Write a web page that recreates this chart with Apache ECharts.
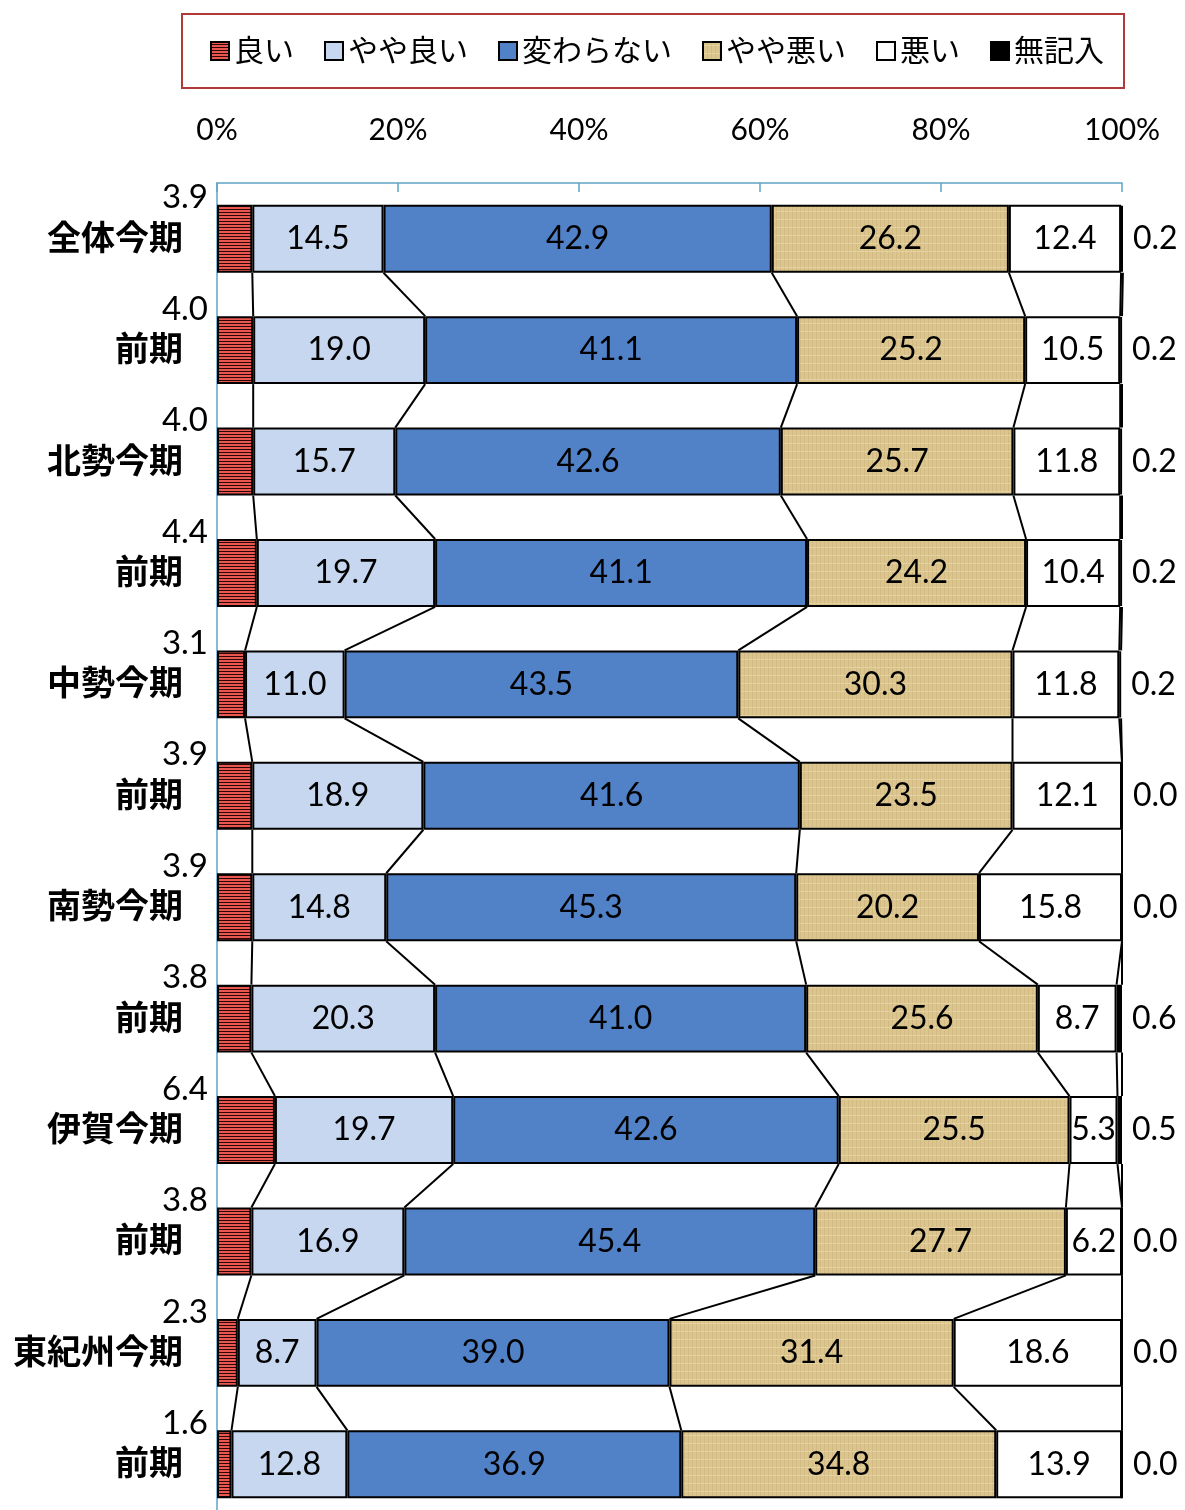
<!DOCTYPE html>
<html>
<head>
<meta charset="utf-8">
<script src="https://cdn.jsdelivr.net/npm/echarts@6/dist/echarts.min.js"></script>
<style>
html,body{margin:0;padding:0;background:#fff;}
#chart{width:1185px;height:1510px;}
</style>
</head>
<body>
<div id="chart"></div>
<script>
const categories = ['全体今期','前期','北勢今期','前期','中勢今期','前期','南勢今期','前期','伊賀今期','前期','東紀州今期','前期'];
const seriesNames = ['良い','やや良い','変わらない','やや悪い','悪い','無記入'];
const good       = [3.9, 4.0, 4.0, 4.4, 3.1, 3.9, 3.9, 3.8, 6.4, 3.8, 2.3, 1.6];
const fairlyGood = [14.5,19.0,15.7,19.7,11.0,18.9,14.8,20.3,19.7,16.9, 8.7,12.8];
const unchanged  = [42.9,41.1,42.6,41.1,43.5,41.6,45.3,41.0,42.6,45.4,39.0,36.9];
const fairlyBad  = [26.2,25.2,25.7,24.2,30.3,23.5,20.2,25.6,25.5,27.7,31.4,34.8];
const bad        = [12.4,10.5,11.8,10.4,11.8,12.1,15.8, 8.7, 5.3, 6.2,18.6,13.9];
const noAnswer   = [0.2, 0.2, 0.2, 0.2, 0.2, 0.0, 0.0, 0.6, 0.5, 0.0, 0.0, 0.0];
const axisMin = 0, axisMax = 100, axisStep = 20;

const allSeries = [good, fairlyGood, unchanged, fairlyBad, bad, noAnswer];
const BAR_RATIO = 0.61;

// fill patterns
function stripePattern(){
  const c = document.createElement('canvas'); c.width = 4; c.height = 3;
  const g = c.getContext('2d');
  g.fillStyle = '#e9574f'; g.fillRect(0,0,4,3);
  g.fillStyle = '#2a0606'; g.fillRect(0,2,4,1);
  return {image: c, repeat: 'repeat'};
}
function beigePattern(){
  const c = document.createElement('canvas'); c.width = 8; c.height = 8;
  const g = c.getContext('2d');
  g.fillStyle = '#dcc690'; g.fillRect(0,0,8,8);
  g.fillStyle = '#d2ba82'; g.fillRect(0,0,1,8); g.fillRect(4,0,1,8);
  g.fillStyle = '#e4d2a0'; g.fillRect(0,3,8,1);
  return {image: c, repeat: 'repeat'};
}

const fills = [stripePattern(), '#c6d7ef', '#5181c7', beigePattern(), '#ffffff', '#000000'];
const FONT = "Lato, 'Noto Sans CJK JP', sans-serif";

const catKeys = categories.map((c, i) => String(i));

function cum(i){
  const out = []; let s = 0;
  for (const arr of allSeries){ s += arr[i]; out.push(s); }
  return out;
}
const linkData = [];
for (let i = 0; i < categories.length - 1; i++){
  linkData.push([i].concat(cum(i), cum(i + 1)));
}

const barSeries = seriesNames.map((name, si) => {
  let label;
  if (si === 0){
    label = {show: true, position: 'left', distance: 9, offset: [0, -41],
      formatter: p => Number(p.value).toFixed(1), color: '#000', fontSize: 33, fontFamily: FONT};
  } else if (si === 5){
    label = {show: true, position: 'right', distance: 10,
      formatter: p => Number(p.value).toFixed(1), color: '#000', fontSize: 32, fontFamily: FONT};
  } else {
    label = {show: true, position: 'inside',
      formatter: p => Number(p.value).toFixed(1), color: '#000', fontSize: 32, fontFamily: FONT};
  }
  return {
    name, type: 'bar', stack: 'total', barWidth: (BAR_RATIO * 100) + '%',
    data: allSeries[si],
    itemStyle: {color: fills[si], borderColor: '#000', borderWidth: 2},
    label, emphasis: {disabled: true}, z: 3
  };
});

const linkSeries = {
  type: 'custom', name: 'links', z: 2, silent: true,
  encode: {x: [1,2,3,4,5,6,7,8,9,10,11,12], y: 0},
  data: linkData,
  renderItem: function(params, api){
    const i = api.value(0);
    const bandH = api.size([0, 1])[1];
    const half = bandH * BAR_RATIO / 2;
    const children = [];
    for (let k = 1; k <= 6; k++){
      const p1 = api.coord([api.value(k), i]);
      const p2 = api.coord([api.value(k + 6), i + 1]);
      children.push({type: 'line', shape: {x1: p1[0], y1: p1[1] + half, x2: p2[0], y2: p2[1] - half},
        style: {stroke: '#000', lineWidth: 2}});
    }
    return {type: 'group', children};
  }
};

const chart = echarts.init(document.getElementById('chart'), null, {renderer: 'canvas'});
chart.setOption({
  animation: false,
  backgroundColor: '#fff',
  legend: {
    data: seriesNames,
    left: 182, top: 14,
    padding: [22, 20, 22, 28],
    itemWidth: 18, itemHeight: 18, itemGap: 30,
    icon: 'rect',
    borderColor: '#b03a3a', borderWidth: 2,
    textStyle: {fontSize: 30, fontFamily: FONT, color: '#000'}
  },
  grid: {left: 217, right: 63, top: 183, height: 1337, containLabel: false, outerBoundsMode: 'none'},
  xAxis: {
    type: 'value', position: 'top', min: axisMin, max: axisMax, interval: axisStep,
    axisLine: {show: true, lineStyle: {color: '#5ea4c4', width: 1.5}},
    axisTick: {show: true, inside: true, length: 9, lineStyle: {color: '#5ea4c4', width: 1.5}},
    splitLine: {show: false},
    axisLabel: {formatter: '{value}%', fontSize: 30, fontFamily: FONT, color: '#000', margin: 38}
  },
  yAxis: {
    type: 'category', inverse: true, data: catKeys,
    axisLine: {show: true, lineStyle: {color: '#5ea4c4', width: 1.5}},
    axisTick: {show: false},
    axisLabel: {formatter: v => categories[Number(v)], fontSize: 34, fontWeight: 'bold',
      fontFamily: FONT, color: '#000', margin: 34}
  },
  series: barSeries.concat([linkSeries])
});
</script>
</body>
</html>
